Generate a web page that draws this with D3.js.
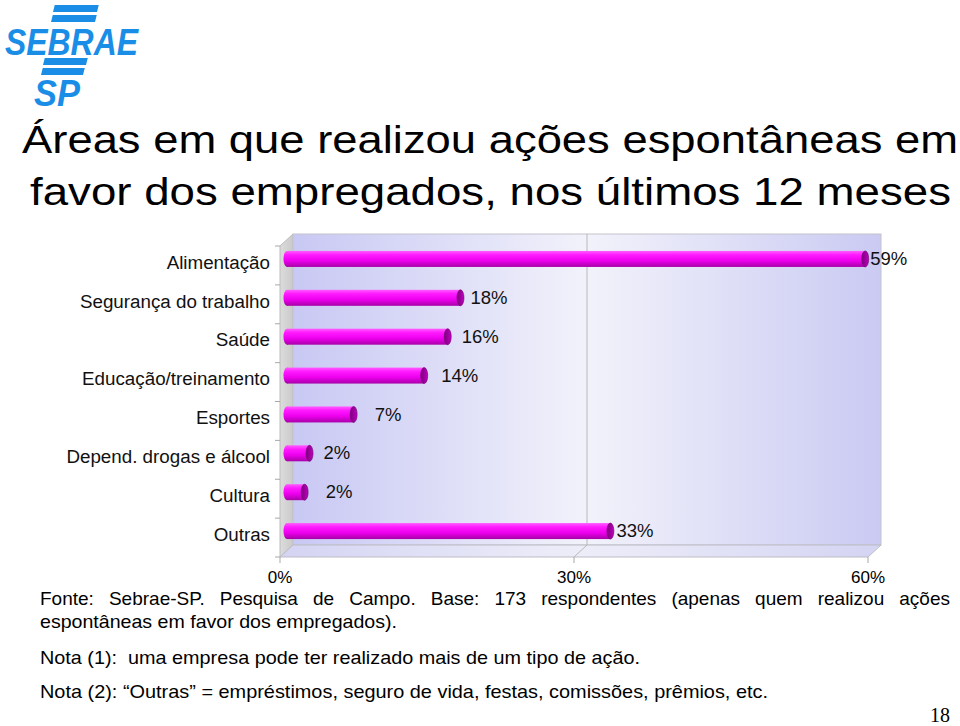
<!DOCTYPE html>
<html><head><meta charset="utf-8">
<script src="https://cdn.jsdelivr.net/npm/d3@7"></script>
<style>html,body{margin:0;padding:0;background:#fff;} svg{display:block;}</style>
</head><body>
<script>
// ---- data ----
const categories = ["Alimentação","Segurança do trabalho","Saúde","Educação/treinamento","Esportes","Depend. drogas e álcool","Cultura","Outras"];
const values = [59, 17.7, 16.4, 14.0, 6.8, 2.3, 1.8, 33];
const valueLabels = ["59%","18%","16%","14%","7%","2%","2%","33%"];
const xTicks = [0, 30, 60];
const xTickLabels = ["0%","30%","60%"];
const titleLines = ["Áreas em que realizou ações espontâneas em","favor dos empregados, nos últimos 12 meses"];
const notes = ["Fonte: Sebrae-SP. Pesquisa de Campo. Base: 173 respondentes (apenas quem realizou ações","espontâneas em favor dos empregados).","Nota (1):  uma empresa pode ter realizado mais de um tipo de ação.","Nota (2): “Outras” = empréstimos, seguro de vida, festas, comissões, prêmios, etc."];
const pageNumber = "18";

// ---- layout ----
const W = 960, H = 726;
const font = "'Liberation Sans', Arial, Helvetica, sans-serif";
const svg = d3.select("body").append("svg").attr("width", W).attr("height", H);
const defs = svg.append("defs");

// gradients
const gWall = defs.append("linearGradient").attr("id","wall").attr("x1","0").attr("x2","1").attr("y1","0").attr("y2","0");
[[0,"#c8c8f4"],[0.5,"#f2f2fb"],[1,"#cacaf3"]].forEach(s=>gWall.append("stop").attr("offset",s[0]).attr("stop-color",s[1]));
const gFloor = defs.append("linearGradient").attr("id","floor").attr("x1","0").attr("x2","1").attr("y1","0").attr("y2","0");
[[0,"#d4d4f3"],[0.5,"#ededf9"],[1,"#d4d4f3"]].forEach(s=>gFloor.append("stop").attr("offset",s[0]).attr("stop-color",s[1]));
const gLeft = defs.append("linearGradient").attr("id","leftwall").attr("x1","0").attr("x2","1").attr("y1","0").attr("y2","0");
[[0,"#dcdcdc"],[1,"#cacaca"]].forEach(s=>gLeft.append("stop").attr("offset",s[0]).attr("stop-color",s[1]));
const gBar = defs.append("linearGradient").attr("id","bar").attr("x1","0").attr("x2","0").attr("y1","0").attr("y2","1");
[[0,"#ff5cff"],[0.25,"#ff1aff"],[0.6,"#ee00ee"],[1,"#a800a8"]].forEach(s=>gBar.append("stop").attr("offset",s[0]).attr("stop-color",s[1]));
const gCap = defs.append("linearGradient").attr("id","cap").attr("x1","0").attr("x2","1").attr("y1","0").attr("y2","0");
[[0,"#7a007a"],[1,"#c000c0"]].forEach(s=>gCap.append("stop").attr("offset",s[0]).attr("stop-color",s[1]));

// plot geometry (front plane)
const fx0 = 280, fx1 = 868, fyTop = 246, fyBot = 557;
const dX = 13, dY = 12;      // depth offset to back plane
const x = d3.scaleLinear().domain([0, 60]).range([fx0, fx1]);
const y = d3.scaleBand().domain(categories).range([fyTop, fyBot]).paddingInner(0).paddingOuter(0);

// left wall
svg.append("polygon").attr("points", [[fx0,fyTop],[fx0+dX,fyTop-dY],[fx0+dX,fyBot-dY],[fx0,fyBot]].join(" "))
  .attr("fill","url(#leftwall)").attr("stroke","#bcbcbc").attr("stroke-width",1);
// back wall
svg.append("rect").attr("x",fx0+dX).attr("y",fyTop-dY).attr("width",fx1-fx0).attr("height",fyBot-fyTop)
  .attr("fill","url(#wall)").attr("stroke","#c4c4cc").attr("stroke-width",1);
// floor
svg.append("polygon").attr("points", [[fx0,fyBot],[fx0+dX,fyBot-dY],[fx1+dX,fyBot-dY],[fx1,fyBot]].join(" "))
  .attr("fill","url(#floor)").attr("stroke","#bcbcc6").attr("stroke-width",1);

// gridlines (interior ticks)
xTicks.filter(t => t > 0 && t < 60).forEach(t => {
  svg.append("line").attr("x1",x(t)+dX).attr("x2",x(t)+dX).attr("y1",fyTop-dY).attr("y2",fyBot-dY)
    .attr("stroke","#b8b8b8").attr("stroke-width",1);
  svg.append("line").attr("x1",x(t)+dX).attr("x2",x(t)).attr("y1",fyBot-dY).attr("y2",fyBot)
    .attr("stroke","#b8b8b8").attr("stroke-width",1);
});

// x axis ticks + labels
const xg = svg.append("g");
xTicks.forEach((t,i) => {
  xg.append("line").attr("x1",x(t)).attr("x2",x(t)).attr("y1",fyBot).attr("y2",fyBot+6).attr("stroke","#a8a8a8");
  xg.append("text").attr("x",x(t)).attr("y",583).attr("text-anchor","middle")
    .attr("font-family",font).attr("font-size",17).attr("fill","#000").text(xTickLabels[i]);
});

// y axis ticks
const bounds = categories.map(c => y(c)).concat([fyBot]);
bounds.forEach(b => {
  svg.append("line").attr("x1",fx0-5).attr("x2",fx0).attr("y1",b).attr("y2",b).attr("stroke","#a8a8a8");
});
// y labels
categories.forEach(c => {
  svg.append("text").attr("x",270).attr("y",y(c)+y.bandwidth()/2-3.5).attr("dy","0.36em")
    .attr("text-anchor","end").attr("font-family",font).attr("font-size",18.8).attr("fill","#111").text(c);
});

// bars (cylinders) in mid-depth plane
const bx = 7, by = -6.5, barH = 16, rx = 3.5;
const bars = svg.append("g");
values.forEach((v,i) => {
  const c = categories[i];
  const cy = y(c) + y.bandwidth()/2 + by;
  const xa = x(0) + bx, xb = x(v) + bx;
  const g = bars.append("g");
  g.append("ellipse").attr("cx",xa).attr("cy",cy).attr("rx",rx).attr("ry",barH/2).attr("fill","url(#bar)");
  g.append("rect").attr("x",xa).attr("y",cy-barH/2).attr("width",Math.max(0,xb-xa)).attr("height",barH).attr("fill","url(#bar)");
  g.append("ellipse").attr("cx",xb).attr("cy",cy).attr("rx",rx).attr("ry",barH/2).attr("fill","url(#cap)")
    .attr("stroke","#6a006a").attr("stroke-width",0.6);
});

// value labels
const labelNudge = [-2.5, 2.5, 6.5, 9.5, 13.5, 6.5, 13.5, -1.5];
values.forEach((v,i) => {
  const cy = y(categories[i]) + y.bandwidth()/2 + by;
  svg.append("text").attr("x", x(v)+bx+rx+4+labelNudge[i]).attr("y", cy-0.5).attr("dy","0.36em")
    .attr("font-family",font).attr("font-size",18.5).attr("fill","#111").text(valueLabels[i]);
});

// title
const titleSpec = [{x:22, w:936, y:153},{x:30, w:921, y:205}];
titleLines.forEach((t,i) => {
  const s = titleSpec[i];
  const el = svg.append("text").attr("x",s.x).attr("y",s.y).attr("font-family",font).attr("font-size",38).attr("fill","#000").text(t);
  el.attr("textLength", s.w).attr("lengthAdjust","spacingAndGlyphs");
});

// notes
const noteY = [605, 628, 664, 698];
const noteW = [910, 357, 600, 728];
notes.forEach((t,i) => {
  const el = svg.append("text").attr("x",40).attr("y",noteY[i]).attr("font-family",font).attr("font-size",18.5)
    .attr("fill","#000").style("white-space","pre").text(t);
  if (i === 0) {
    el.attr("font-size",19);
    const nat = el.node().getComputedTextLength();
    const spaces = (t.match(/ /g)||[]).length;
    el.attr("word-spacing", (noteW[i] - nat)/spaces);
  } else {
    el.attr("textLength", noteW[i]).attr("lengthAdjust","spacingAndGlyphs");
  }
});

// page number
svg.append("text").attr("x",940).attr("y",722).attr("text-anchor","middle")
  .attr("font-family","'Liberation Serif','Times New Roman',serif").attr("font-size",20).attr("fill","#000").text(pageNumber);

// logo
const blue = "#1a8ee6";
const logo = svg.append("g");
function stripe(xl, yt, w, h){
  const sk = 0.25*h;
  logo.append("polygon").attr("points",[[xl+sk,yt],[xl+w+sk,yt],[xl+w,yt+h],[xl,yt+h]].join(" ")).attr("fill",blue);
}
stripe(53,5,44,7);
stripe(51,15,44,7);
stripe(43,58,43,7);
stripe(41,68,42,7);
logo.append("text").attr("x",5).attr("y",55).attr("font-family",font).attr("font-weight","bold").attr("font-style","italic")
  .attr("font-size",37).attr("fill",blue).attr("textLength",133).attr("lengthAdjust","spacingAndGlyphs").text("SEBRAE");
logo.append("text").attr("x",34).attr("y",106).attr("font-family",font).attr("font-weight","bold").attr("font-style","italic")
  .attr("font-size",37).attr("fill",blue).attr("textLength",46).attr("lengthAdjust","spacingAndGlyphs").text("SP");
</script>
</body></html>
